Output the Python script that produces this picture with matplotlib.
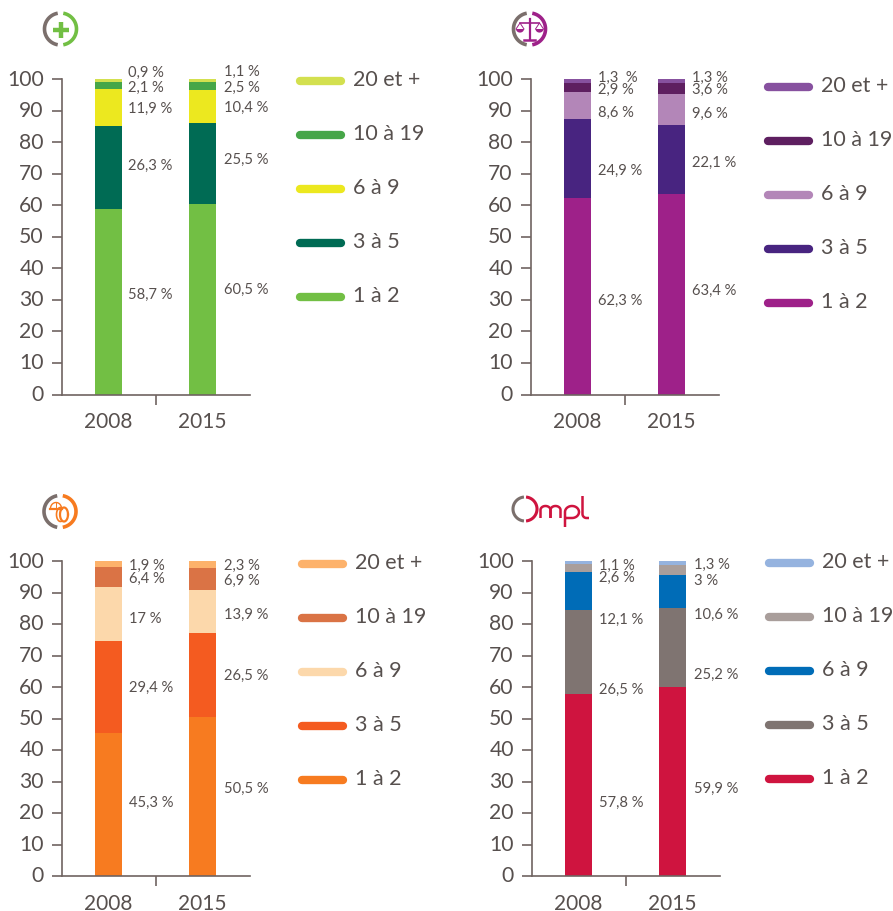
import numpy as np
import matplotlib
matplotlib.use("Agg")
import matplotlib.pyplot as plt
from matplotlib.transforms import ScaledTranslation

plt.rcParams['font.family'] = ['Lato', 'DejaVu Sans']

W, H = 893, 912
TXT = '#57504e'
AX = '#6f6461'

years = ['2008', '2015']
classes = ['1 à 2', '3 à 5', '6 à 9', '10 à 19', '20 et +']

sante_2008 = [58.7, 26.3, 11.9, 2.1, 0.9]
sante_2015 = [60.5, 25.5, 10.4, 2.5, 1.1]
droit_2008 = [62.3, 24.9, 8.6, 2.9, 1.3]
droit_2015 = [63.4, 22.1, 9.6, 3.6, 1.3]
tech_2008 = [45.3, 29.4, 17, 6.4, 1.9]
tech_2015 = [50.5, 26.5, 13.9, 6.9, 2.3]
ompl_2008 = [57.8, 26.5, 12.1, 2.6, 1.1]
ompl_2015 = [59.9, 25.2, 10.6, 3, 1.3]

sante_colors = ['#72bf44', '#006b54', '#ece81f', '#46a648', '#d3e04f']
droit_colors = ['#9e2189', '#482480', '#b386b8', '#5e1f60', '#87519f']
tech_colors = ['#f77b20', '#f45b20', '#fcd8ab', '#da7345', '#fdb26b']
ompl_colors = ['#cf143f', '#7f7471', '#006cb7', '#a99e9b', '#95b3df']

panels = [
    dict(v=(sante_2008, sante_2015), c=sante_colors, x0=61.5, top=80, bot=395.5, lx=297, ly=82,
         lab_x=(128.5, 224.5), lab_y=((294, 165, 108, 87, 72), (289, 159, 107, 87, 71)), suffix={}),
    dict(v=(droit_2008, droit_2015), c=droit_colors, x0=530.5, top=80, bot=395.5, lx=765, ly=88,
         lab_x=(597.5, 692.5), lab_y=((300, 170, 112, 89, 77), (290, 162, 113, 89, 77)), suffix={(0, 4): '  %'}),
    dict(v=(tech_2008, tech_2015), c=tech_colors, x0=61.5, top=562, bot=877, lx=299, ly=565,
         lab_x=(129, 224), lab_y=((802, 687, 618, 578, 565), (788, 675, 614, 580, 565)), suffix={}),
    dict(v=(ompl_2008, ompl_2015), c=ompl_colors, x0=531.5, top=562, bot=877, lx=766, ly=564,
         lab_x=(599, 694), lab_y=((802, 689, 619, 577, 565), (788, 674, 614, 580, 564)), suffix={}),
]

fig = plt.figure(figsize=(W / 100, H / 100), dpi=100, facecolor='white')
ov = fig.add_axes([0, 0, 1, 1], zorder=5)
ov.set_xlim(0, W)
ov.set_ylim(H, 0)
ov.axis('off')


def fmt(v):
    return str(v).replace('.', ',')


for p in panels:
    ax = fig.add_axes([p['x0'] / W, 1 - p['bot'] / H, 188 / W, (p['bot'] - p['top']) / H])
    ax.set_xlim(-0.5, 1.5)
    ax.set_ylim(0, 100)
    ax.patch.set_alpha(0)
    for i, vals in enumerate(p['v']):
        bottom = 0
        for v, col in zip(vals, p['c']):
            ax.bar(i, v, 0.288, bottom=bottom, color=col, linewidth=0, clip_on=False)
            bottom += v
    for s in ('top', 'right'):
        ax.spines[s].set_visible(False)
    for s in ('left', 'bottom'):
        ax.spines[s].set_color(AX)
        ax.spines[s].set_linewidth(1.2)
    ax.set_yticks(range(0, 101, 10))
    ax.tick_params(axis='y', length=7.2, width=1.2, color=AX, labelcolor=TXT, labelsize=15.2, pad=5.5)
    shift = ScaledTranslation(0, 2.5 / 72 * 72 / 100, fig.dpi_scale_trans)
    for lab in ax.get_yticklabels():
        lab.set_transform(lab.get_transform() + shift)
    ax.set_xticks([0, 1])
    ax.set_xticklabels(years)
    ax.tick_params(axis='x', which='major', length=0, labelcolor=TXT, labelsize=15, pad=12)
    ax.set_xticks([0.5], minor=True)
    ax.tick_params(axis='x', which='minor', length=7.2, width=1.2, color=AX)

    for i, vals in enumerate(p['v']):
        for j, v in enumerate(vals):
            suf = p['suffix'].get((i, j), ' %')
            ov.text(p['lab_x'][i], p['lab_y'][i][j] + 1, fmt(v) + suf, fontsize=10.6, color=TXT,
                    ha='left', va='center')

    for k, (name, col) in enumerate(zip(classes[::-1], p['c'][::-1])):
        y = p['ly'] + 54 * k
        ov.plot([p['lx'] + 3, p['lx'] + 44], [y, y], color=col, lw=6, solid_capstyle='round')
        ov.text(p['lx'] + 56, y - 2, name, fontsize=15.5, color=TXT, ha='left', va='center')


def ring(cx, cy, r, col, lw=2.6):
    t = np.radians(np.linspace(100, 260, 60))
    ov.plot(cx + r * np.cos(t), cy + r * np.sin(t), color='#7b6f6c', lw=lw, solid_capstyle='butt')
    t = np.radians(np.linspace(-80, 80, 60))
    ov.plot(cx + r * np.cos(t), cy + r * np.sin(t), color=col, lw=lw, solid_capstyle='butt')


# health icon
ring(60.5, 30, 16, '#72bf44')
ov.plot([52.5, 68.5], [30.5, 30.5], color='#72bf44', lw=3.2, solid_capstyle='butt')
ov.plot([60.5, 60.5], [22.5, 38.5], color='#72bf44', lw=3.2, solid_capstyle='butt')

# scales icon
c = '#9e2189'
ring(529.5, 30, 16, c)
ov.plot([529.5, 529.5], [20, 40], color=c, lw=1.6)
ov.plot([524, 535], [40.5, 40.5], color=c, lw=1.8)
ov.plot([520, 539], [24, 24], color=c, lw=1.2)
for sx in (520, 539.5):
    ov.plot([sx - 4, sx, sx + 4], [30, 24, 30], color=c, lw=0.7)
    t = np.radians(np.linspace(0, 180, 20))
    ov.fill(sx + 4 * np.cos(t), 30 + 3.6 * np.sin(t), color=c, lw=0)

# helmet and tyre icon
c = '#f77b20'
ring(60, 512.5, 16, c)
t = np.radians(np.linspace(0, 360, 60))
ov.plot(64 + 4 * np.cos(t), 515.5 + 7 * np.sin(t), color=c, lw=1.6)
ov.plot(60.5 + 4 * np.cos(t[12:48]), 515.5 + 7 * np.sin(t[12:48]), color=c, lw=1.2)
t = np.radians(np.linspace(180, 360, 30))
ov.plot(56 + 5.5 * np.cos(t), 509.5 + 6 * np.sin(t), color=c, lw=1.0)
ov.plot([50, 62], [510, 510], color=c, lw=1.6)
ov.plot([56, 56], [504, 509], color=c, lw=0.7)

# OMPL logo
c = '#cf143f'
t = np.radians(np.linspace(95, 265, 60))
ov.plot(525 + 12 * np.cos(t), 510 + 12 * np.sin(t), color='#7b6f6c', lw=2.2, solid_capstyle='butt')
t = np.radians(np.linspace(-85, 85, 60))
ov.plot(525 + 12 * np.cos(t), 510 + 12 * np.sin(t), color=c, lw=2.2, solid_capstyle='butt')
a = np.radians(np.linspace(180, 360, 30))
for mx in (545.5, 555.5):
    ov.plot(np.r_[mx - 5, mx + 5 * np.cos(a), mx + 5],
            np.r_[519, 511 + 4 * np.sin(a), 519], color=c, lw=1.8, solid_capstyle='butt')
b = np.radians(np.linspace(180, 450, 40))
ov.plot(np.r_[565, 565 + 7 + 7 * np.cos(b), 565],
        np.r_[528, 513 + 6 * np.sin(b), 519], color=c, lw=1.8, solid_capstyle='butt')
q = np.radians(np.linspace(180, 90, 12))
ov.plot(np.r_[582.5, 586.5 + 4 * np.cos(q), 589], np.r_[497, 515 + 4 * np.sin(q), 519],
        color=c, lw=1.8, solid_capstyle='butt')

fig.savefig('out.png', dpi=100)
